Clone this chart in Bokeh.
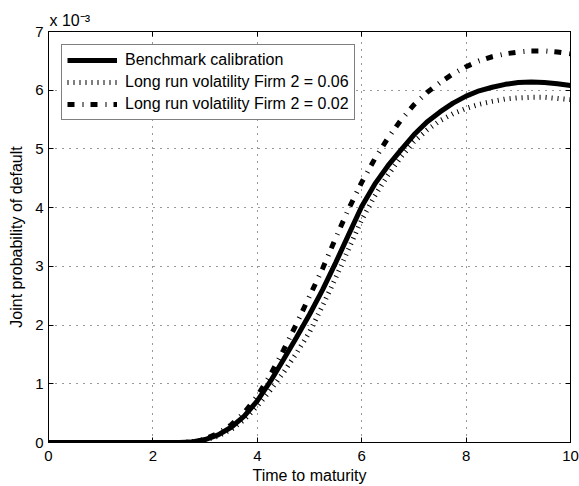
from bokeh.plotting import figure
from bokeh.models import Range1d, FixedTicker, LinearAxis, Title, ColumnDataSource
from bokeh.embed import file_html
from bokeh.resources import INLINE

# ---- data (joint default probability, in units of 1e-3) ----
time = [0.0, 0.25, 0.5, 0.75, 1.0, 1.25, 1.5, 1.75, 2.0, 2.25, 2.5,
        2.75, 3.0, 3.25, 3.5, 3.75, 4.0, 4.25, 4.5, 4.75, 5.0,
        5.25, 5.5, 5.75, 6.0, 6.25, 6.5, 6.75, 7.0, 7.25, 7.5,
        7.75, 8.0, 8.25, 8.5, 8.75, 9.0, 9.25, 9.5, 9.75, 10.0]

benchmark = [0, 0, 0, 0, 0, 0, 0, 0, 0, 0, 0,
             0.01, 0.05, 0.13, 0.26, 0.45, 0.71, 1.04, 1.41, 1.79, 2.18,
             2.60, 3.06, 3.54, 4.02, 4.40, 4.71, 4.98, 5.24, 5.46, 5.63,
             5.78, 5.90, 5.99, 6.05, 6.10, 6.13, 6.14, 6.13, 6.11, 6.08]

vol_006 = [0, 0, 0, 0, 0, 0, 0, 0, 0, 0, 0,
           0.01, 0.04, 0.11, 0.22, 0.39, 0.62, 0.89, 1.19, 1.52, 1.88,
           2.33, 2.80, 3.30, 3.79, 4.20, 4.55, 4.86, 5.12, 5.32, 5.48,
           5.60, 5.69, 5.76, 5.81, 5.85, 5.87, 5.88, 5.88, 5.86, 5.84]

vol_002 = [0, 0, 0, 0, 0, 0, 0, 0, 0, 0, 0,
           0.01, 0.06, 0.16, 0.30, 0.51, 0.79, 1.15, 1.57, 2.02, 2.49,
           2.96, 3.48, 3.98, 4.43, 4.83, 5.18, 5.49, 5.75, 5.96, 6.13,
           6.28, 6.40, 6.50, 6.57, 6.62, 6.65, 6.67, 6.67, 6.65, 6.62]

series_labels = ["Benchmark calibration",
                 "Long run volatility Firm 2 = 0.06",
                 "Long run volatility Firm 2 = 0.02"]

x_ticks = [0, 2, 4, 6, 8, 10]
y_ticks = [0, 1, 2, 3, 4, 5, 6, 7]
exponent_text = "x 10\u207b\u00b3"

FONT = "Liberation Sans"

p = figure(width=579, height=486, output_backend="svg", toolbar_location=None,
           x_range=Range1d(0, 10), y_range=Range1d(0, 7))
p.min_border_left = 48
p.min_border_right = 9
p.min_border_top = 31
p.min_border_bottom = 44
p.background_fill_color = "white"
p.border_fill_color = "white"
p.outline_line_color = "black"
p.outline_line_width = 1

src = ColumnDataSource(dict(t=time, b=benchmark, v6=vol_006, v2=vol_002))

p.line("t", "b", source=src, line_color="black", line_width=5,
       legend_label=series_labels[0])
p.line("t", "v6", source=src, line_color="black", line_width=5,
       line_dash="1 5", line_cap="butt", legend_label=series_labels[1])
p.line("t", "v2", source=src, line_color="black", line_width=5,
       line_dash="7 8 1 7", line_cap="butt", legend_label=series_labels[2])

# axes
for ax in (p.xaxis[0], p.yaxis[0]):
    ax.major_tick_in = 5
    ax.major_tick_out = 0
    ax.minor_tick_in = 0
    ax.minor_tick_out = 0
    ax.axis_line_color = "black"
    ax.major_tick_line_color = "black"
    ax.major_label_text_font = FONT
    ax.major_label_text_font_size = "15px"
    ax.major_label_text_color = "black"
    ax.axis_label_text_font = FONT
    ax.axis_label_text_font_size = "16px"
    ax.axis_label_text_font_style = "normal"
    ax.axis_label_text_color = "black"

p.xaxis[0].ticker = FixedTicker(ticks=x_ticks)
p.yaxis[0].ticker = FixedTicker(ticks=y_ticks)
p.xaxis[0].axis_label = "Time to maturity"
p.yaxis[0].axis_label = "Joint probability of default"
p.xaxis[0].major_label_standoff = 8
p.xaxis[0].axis_label_standoff = 3
p.yaxis[0].major_label_standoff = 5
p.yaxis[0].axis_label_standoff = 7

for loc, ticks in (("above", x_ticks), ("right", y_ticks)):
    ax = LinearAxis(ticker=FixedTicker(ticks=ticks),
                    major_label_overrides={t: "" for t in ticks})
    ax.major_label_standoff = 0
    ax.major_tick_in = 5
    ax.major_tick_out = 0
    ax.minor_tick_in = 0
    ax.minor_tick_out = 0
    ax.axis_line_color = "black"
    ax.major_tick_line_color = "black"
    p.add_layout(ax, loc)

# grid
for g in (p.xgrid[0], p.ygrid[0]):
    g.grid_line_color = "#333333"
    g.grid_line_dash = "1 6"
    g.grid_line_width = 1
p.xgrid[0].ticker = FixedTicker(ticks=x_ticks)
p.ygrid[0].ticker = FixedTicker(ticks=y_ticks)

# exponent label above the frame
p.add_layout(Title(text=exponent_text, align="left", offset=1, standoff=5,
                   text_font=FONT, text_font_size="16px",
                   text_font_style="normal", text_color="black"), "above")

# legend
lg = p.legend[0]
lg.location = "top_left"
lg.margin = 13
lg.padding = 5
lg.spacing = 2
lg.glyph_width = 50
lg.glyph_height = 20
lg.label_height = 20
lg.label_standoff = 8
lg.label_text_font = FONT
lg.label_text_font_size = "16px"
lg.label_text_color = "black"
lg.border_line_color = "black"
lg.border_line_width = 1
lg.background_fill_color = "white"
lg.background_fill_alpha = 1.0

open("out.html", "w").write(file_html(p, INLINE))
